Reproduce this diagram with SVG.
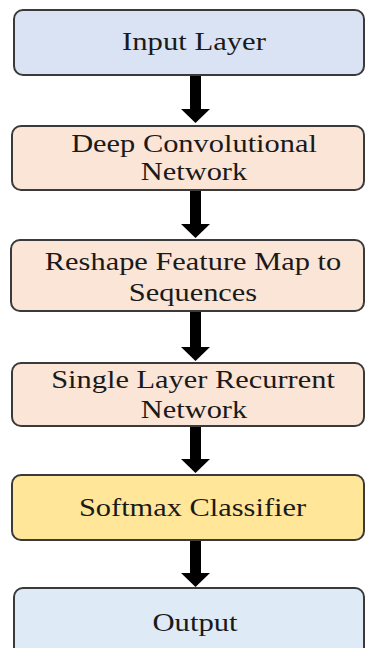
<svg xmlns="http://www.w3.org/2000/svg" width="366" height="648" viewBox="0 0 366 648">
<defs>
<style>
.box{stroke:#3a3a3a;stroke-width:2}
.blue{fill:#dae3f3}
.blue2{fill:#deebf7}
.peach{fill:#fbe5d6}
.gold{fill:#ffe699}
.t{font-size:26px;fill:#1a1a1a;text-anchor:middle}
.c{stroke:#000;stroke-width:11;fill:none}
</style>
</defs>
<rect width="366" height="648" fill="#fff"/>
<g id="connectors">
<line class="c" x1="195.5" y1="75" x2="195.5" y2="110"/>
<path d="M181,109 L210,109 L195.5,123 Z" fill="#000"/>
<line class="c" x1="195.5" y1="190" x2="195.5" y2="225"/>
<path d="M181,224 L210,224 L195.5,238 Z" fill="#000"/>
<line class="c" x1="195.5" y1="311" x2="195.5" y2="348"/>
<path d="M181,347 L210,347 L195.5,361 Z" fill="#000"/>
<line class="c" x1="195.5" y1="426" x2="195.5" y2="460"/>
<path d="M181,459 L210,459 L195.5,473 Z" fill="#000"/>
<line class="c" x1="195.5" y1="540" x2="195.5" y2="574"/>
<path d="M181,573 L210,573 L195.5,587 Z" fill="#000"/>
</g>
<g id="input-layer">
<rect class="box blue" x="14" y="10" width="350" height="65" rx="9"/>
<text class="t" font-family="Liberation Serif, serif" transform="translate(194,50) scale(1.18,1)">Input Layer</text>
</g>
<g id="deep-conv">
<rect class="box peach" x="12" y="126" width="352" height="64" rx="9"/>
<text class="t" font-family="Liberation Serif, serif" transform="translate(194,152) scale(1.17,1)">Deep Convolutional</text>
<text class="t" font-family="Liberation Serif, serif" transform="translate(194,180) scale(1.17,1)">Network</text>
</g>
<g id="reshape">
<rect class="box peach" x="11" y="240" width="353" height="71" rx="9"/>
<text class="t" font-family="Liberation Serif, serif" transform="translate(193,270) scale(1.17,1)">Reshape Feature Map to</text>
<text class="t" font-family="Liberation Serif, serif" transform="translate(193,301) scale(1.17,1)">Sequences</text>
</g>
<g id="recurrent">
<rect class="box peach" x="12" y="363" width="352" height="63" rx="9"/>
<text class="t" font-family="Liberation Serif, serif" transform="translate(193,388) scale(1.17,1)">Single Layer Recurrent</text>
<text class="t" font-family="Liberation Serif, serif" transform="translate(194,418) scale(1.17,1)">Network</text>
</g>
<g id="softmax">
<rect class="box gold" x="12" y="475" width="352" height="65" rx="9"/>
<text class="t" font-family="Liberation Serif, serif" transform="translate(192.5,516) scale(1.17,1)">Softmax Classifier</text>
</g>
<g id="output">
<rect class="box blue2" x="14" y="588" width="350" height="80" rx="9"/>
<text class="t" font-family="Liberation Serif, serif" transform="translate(195,631) scale(1.18,1)">Output</text>
</g>
</svg>
